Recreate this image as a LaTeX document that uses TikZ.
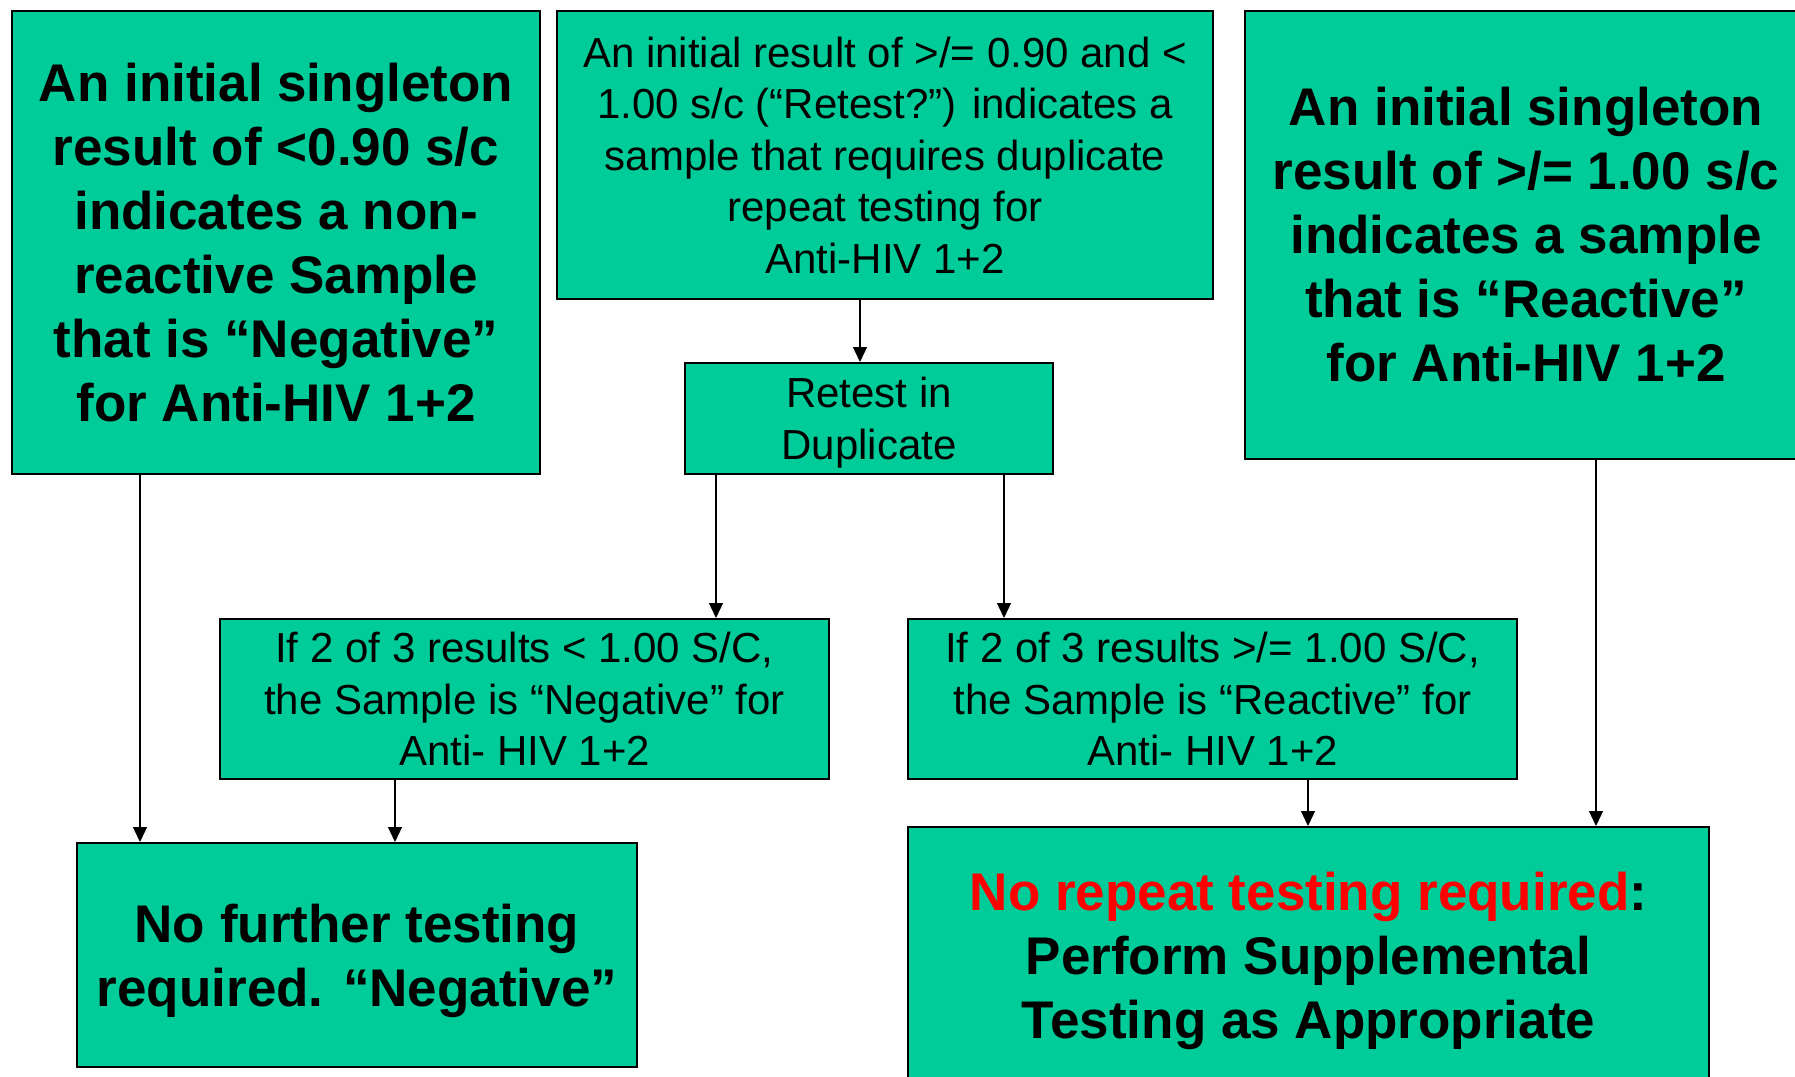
\documentclass[tikz,border=0pt]{standalone}
\usepackage{fontspec}
\setmainfont{Liberation Sans}
\usepackage{xcolor}
\usetikzlibrary{arrows.meta}
\definecolor{boxgreen}{RGB}{0,204,153}
\newcommand{\lift}[1]{\rule{0pt}{#1}}
\tikzset{
  box/.style={draw, line width=1pt, fill=boxgreen, align=center,
              inner sep=0pt, anchor=north west},
  big/.style={box, font=\bfseries\fontsize{26.5}{32}\selectfont},
  plain/.style={box, font=\fontsize{21}{25.75}\selectfont},
  flow/.style={-{Triangle[length=7.5pt,width=7pt]}, line width=0.6pt},
}

\begin{document}
\begin{tikzpicture}[x=0.5pt, y=-0.5pt]
  \useasboundingbox (0,0) rectangle (1795,1077);
  % top row
  \node[big, minimum width=264pt, minimum height=231.5pt] (a) at (11,10)
    {An initial singleton\\result of <0.90 s/c\\indicates a non-\\reactive Sample\\that is “Negative”\\for Anti-HIV 1+2};
  \node[plain, minimum width=328pt, minimum height=144pt] (b) at (556,10)
    {An initial result of >/= 0.90 and <\\1.00 s/c (“Retest?”) indicates a\\sample that requires duplicate\\repeat testing for\\Anti-HIV 1+2};
  \node[big, minimum width=281pt, minimum height=224pt] (c) at (1244,10)
    {An initial singleton\\result of >/= 1.00 s/c\\indicates a sample\\that is “Reactive”\\for Anti-HIV 1+2};
  \node[plain, minimum width=184pt, minimum height=55.5pt] (d) at (684,362)
    {\lift{19.2pt}Retest in\\Duplicate};
  % middle row
  \node[plain, minimum width=304.5pt, minimum height=80pt] (e) at (219,618)
    {If 2 of 3 results < 1.00 S/C,\\the Sample is “Negative” for\\Anti- HIV 1+2};
  \node[plain, minimum width=304.5pt, minimum height=80pt] (f) at (907,618)
    {If 2 of 3 results >/= 1.00 S/C,\\the Sample is “Reactive” for\\Anti- HIV 1+2};
  % results
  \node[big, minimum width=280pt, minimum height=112pt] (g) at (76,842)
    {\lift{24.7pt}No further testing\\required. “Negative”};
  \node[big, minimum width=400.5pt, minimum height=129pt] (h) at (907,826)
    {\lift{24.6pt}\textcolor{red}{No repeat testing required}:\\Perform Supplemental\\Testing as Appropriate};
  % arrows
  \coordinate (a1) at ([xshift=64.5pt]a.south west);
  \coordinate (b1) at ([xshift=152pt]b.south west);
  \coordinate (d1) at ([xshift=16pt]d.south west);
  \coordinate (d2) at ([xshift=160pt]d.south west);
  \coordinate (e1) at ([xshift=88pt]e.south west);
  \coordinate (f1) at ([xshift=200.5pt]f.south west);
  \coordinate (c1) at ([xshift=176pt]c.south west);
  \draw[flow] (a1) -- (a1 |- g.north);
  \draw[flow] (b1) -- (b1 |- d.north);
  \draw[flow] (d1) -- (d1 |- e.north);
  \draw[flow] (d2) -- (d2 |- f.north);
  \draw[flow] (e1) -- (e1 |- g.north);
  \draw[flow] (f1) -- (f1 |- h.north);
  \draw[flow] (c1) -- (c1 |- h.north);
\end{tikzpicture}
\end{document}
